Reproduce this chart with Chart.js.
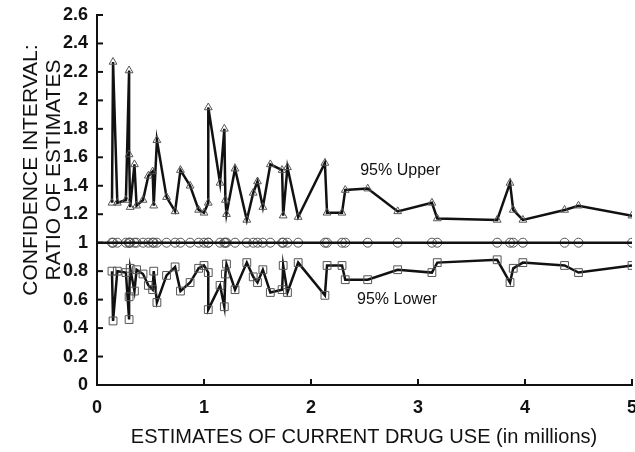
<!DOCTYPE html>
<html>
<head>
<meta charset="utf-8">
<script src="https://cdn.jsdelivr.net/npm/chart.js@4"></script>
<style>
  html, body { margin: 0; padding: 0; background: #fff; }
</style>
</head>
<body>
<canvas id="ciChart" width="635" height="452"></canvas>
<script>
// estimates of current drug use (millions) and CI ratios
const xs = [0.14, 0.15, 0.19, 0.27, 0.30, 0.30, 0.31, 0.35, 0.37, 0.43,
            0.48, 0.52, 0.53, 0.56, 0.65, 0.73, 0.78, 0.87, 0.95, 1.00,
            1.04, 1.04, 1.15, 1.19, 1.20, 1.21, 1.29, 1.40, 1.46, 1.50,
            1.55, 1.62, 1.73, 1.74, 1.78, 1.88, 2.13, 2.15, 2.29, 2.32,
            2.53, 2.81, 3.13, 3.18, 3.74, 3.86, 3.89, 3.98, 4.37, 4.50, 5.00];
const upper = [1.28, 2.27, 1.28, 1.30, 2.21, 1.62, 1.25, 1.55, 1.26, 1.30,
               1.47, 1.50, 1.26, 1.72, 1.32, 1.22, 1.51, 1.40, 1.23, 1.21,
               1.28, 1.95, 1.42, 1.80, 1.30, 1.20, 1.52, 1.16, 1.35, 1.43,
               1.25, 1.55, 1.51, 1.19, 1.53, 1.18, 1.56, 1.21, 1.21, 1.37,
               1.38, 1.22, 1.28, 1.17, 1.16, 1.42, 1.23, 1.16, 1.23, 1.26, 1.19];
const ratio = [1, 1, 1, 1, 1, 1, 1, 1, 1, 1,
               1, 1, 1, 1, 1, 1, 1, 1, 1, 1,
               1, 1, 1, 1, 1, 1, 1, 1, 1, 1,
               1, 1, 1, 1, 1, 1, 1, 1, 1, 1,
               1, 1, 1, 1, 1, 1, 1, 1, 1, 1, 1];
const lower = [0.80, 0.45, 0.80, 0.79, 0.46, 0.62, 0.82, 0.66, 0.81, 0.78,
               0.70, 0.67, 0.80, 0.58, 0.77, 0.83, 0.66, 0.72, 0.82, 0.84,
               0.79, 0.53, 0.70, 0.55, 0.78, 0.85, 0.67, 0.86, 0.76, 0.72,
               0.81, 0.65, 0.67, 0.84, 0.65, 0.86, 0.63, 0.84, 0.84, 0.74,
               0.74, 0.81, 0.79, 0.86, 0.88, 0.72, 0.82, 0.86, 0.84, 0.79, 0.84];
const refLineX = [0, 5];
const xTicks = [0, 1, 2, 3, 4, 5];
const yTicks = [0, 0.2, 0.4, 0.6, 0.8, 1, 1.2, 1.4, 1.6, 1.8, 2, 2.2, 2.4, 2.6];

const FONT = '"Liberation Sans", Arial, Helvetica, sans-serif';

document.addEventListener('DOMContentLoaded', function () {
    const ctx = document.getElementById('ciChart').getContext('2d');

    const pts = (ys) => xs.map((x, i) => ({ x: x, y: ys[i] }));

    // inward tick marks, series labels and axis titles
    const annotate = {
        id: 'annotate',
        afterDraw(chart) {
            const c = chart.ctx;
            const { x, y } = chart.scales;
            c.save();
            c.strokeStyle = '#111';
            c.lineWidth = 2;
            yTicks.forEach(v => {
                const py = y.getPixelForValue(v);
                c.beginPath(); c.moveTo(x.left, py); c.lineTo(x.left + 6, py); c.stroke();
            });
            xTicks.forEach(v => {
                const px = x.getPixelForValue(v);
                c.beginPath(); c.moveTo(px, y.bottom); c.lineTo(px, y.bottom - 6); c.stroke();
            });

            c.fillStyle = '#111';
            c.font = '16px ' + FONT;
            c.textBaseline = 'middle';
            c.textAlign = 'left';
            c.fillText('95% Upper', x.getPixelForValue(2.46), y.getPixelForValue(1.51));
            c.fillText('95% Lower', x.getPixelForValue(2.43), y.getPixelForValue(0.60));

            c.font = '20px ' + FONT;
            c.textAlign = 'center';
            c.fillText('ESTIMATES OF CURRENT DRUG USE (in millions)', 364, 437);
            c.font = '21px ' + FONT;
            c.translate(31, 170);
            c.rotate(-Math.PI / 2);
            c.fillText('CONFIDENCE INTERVAL:', 0, 0);
            c.fillText('RATIO OF ESTIMATES', 0, 23);
            c.restore();
        }
    };

    new Chart(ctx, {
        type: 'scatter',
        data: {
            datasets: [{
                label: '95% Upper',
                data: pts(upper),
                showLine: true,
                borderColor: '#111',
                borderWidth: 2.5,
                pointStyle: 'triangle',
                pointRadius: 4.5,
                pointBorderColor: '#555',
                pointBorderWidth: 1,
                pointBackgroundColor: 'rgba(255,255,255,0)'
            }, {
                label: 'ratio line',
                data: refLineX.map(x => ({ x: x, y: 1 })),
                showLine: true,
                borderColor: '#111',
                borderWidth: 2.5,
                pointRadius: 0
            }, {
                label: 'Ratio',
                data: pts(ratio),
                showLine: false,
                pointStyle: 'circle',
                pointRadius: 4.5,
                pointBorderColor: '#555',
                pointBorderWidth: 1,
                pointBackgroundColor: 'rgba(255,255,255,0)'
            }, {
                label: '95% Lower',
                data: pts(lower),
                showLine: true,
                borderColor: '#111',
                borderWidth: 2.5,
                pointStyle: 'rect',
                pointRadius: 5.5,
                pointBorderColor: '#555',
                pointBorderWidth: 1,
                pointBackgroundColor: 'rgba(255,255,255,0)'
            }]
        },
        options: {
            responsive: false,
            animation: false,
            layout: { autoPadding: false, padding: { top: 15, right: 3, left: 0, bottom: 0 } },
            plugins: {
                legend: { display: false },
                tooltip: { enabled: false }
            },
            scales: {
                x: {
                    type: 'linear',
                    min: 0,
                    max: 5,
                    grid: { display: false, drawTicks: false },
                    border: { display: true, color: '#111', width: 2 },
                    afterBuildTicks: (s) => { s.ticks = xTicks.map(v => ({ value: v })); },
                    afterFit: (s) => { s.height = 67; s.paddingRight = 0; s.paddingLeft = 0; },
                    ticks: {
                        padding: 12,
                        color: '#111',
                        font: { family: FONT, size: 18, weight: 'bold' },
                        callback: (v) => String(+Number(v).toFixed(1))
                    }
                },
                y: {
                    min: 0,
                    max: 2.6,
                    grid: { display: false, drawTicks: false },
                    border: { display: true, color: '#111', width: 2 },
                    afterBuildTicks: (s) => { s.ticks = yTicks.map(v => ({ value: v })); },
                    afterFit: (s) => { s.width = 97; s.paddingTop = 0; s.paddingBottom = 0; },
                    ticks: {
                        padding: 9,
                        color: '#111',
                        font: { family: FONT, size: 18, weight: 'bold' },
                        callback: (v) => String(+Number(v).toFixed(1))
                    }
                }
            }
        },
        plugins: [annotate]
    });
});
</script>
</body>
</html>
